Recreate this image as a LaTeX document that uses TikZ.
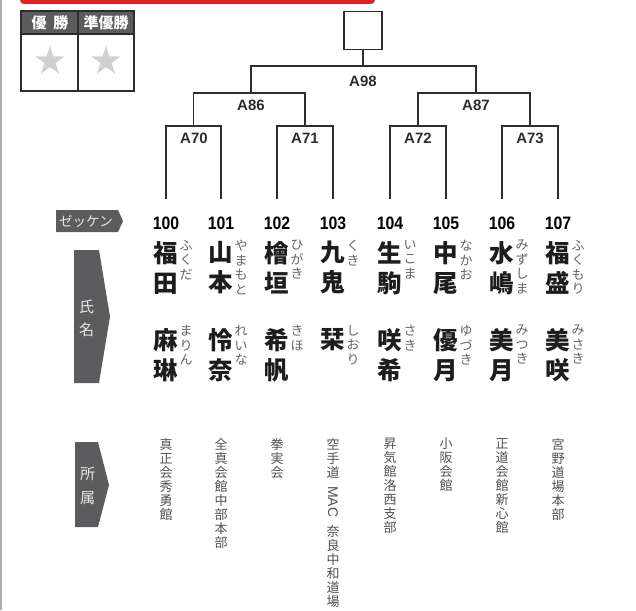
\documentclass[tikz,border=0pt]{standalone}
\usepackage{fontspec}
\usepackage{graphicx}
\setmainfont{Liberation Sans}
\newfontfamily\jp{Noto Sans CJK JP}
\usetikzlibrary{shapes.geometric}
\definecolor{boxgray}{RGB}{92,92,94}
\definecolor{linec}{RGB}{45,45,45}
\definecolor{namec}{RGB}{30,28,30}
\definecolor{rubyc}{RGB}{100,100,100}
\definecolor{affc}{RGB}{80,80,80}
\definecolor{starc}{RGB}{208,208,210}
\definecolor{redbar}{RGB}{232,30,40}
\definecolor{edgegray}{RGB}{175,175,175}
\definecolor{tagtext}{RGB}{232,232,232}
\tikzset{
  bline/.style={draw=linec, line width=1.8pt},
  mlabel/.style={font=\fontsize{15}{15}\selectfont\bfseries, text=linec, inner sep=0pt},
  numlbl/.style={font=\fontsize{18}{18}\selectfont\bfseries, text=black, inner sep=0pt},
  kanji/.style={font=\jp\bfseries\fontsize{24.5}{30}\selectfont, text=namec, inner sep=0pt, align=center, anchor=north},
  ruby/.style={font=\jp\fontsize{13}{14.5}\selectfont, text=rubyc, inner sep=0pt, align=center, anchor=north},
  affil/.style={font=\jp\fontsize{13}{14}\selectfont, text=affc, inner sep=0pt, align=center, anchor=north},
  hdr/.style={font=\jp\bfseries\fontsize{15}{15}\selectfont, text=white, inner sep=0pt},
  tagtxt/.style={font=\jp\fontsize{15}{23.5}\selectfont, text=tagtext, inner sep=0pt, align=center},
  starmark/.style={star, star points=5, star point ratio=2.618, fill=starc, draw=none, minimum size=30.5pt, inner sep=0pt},
}
\newcommand\player[8]{%
  \coordinate (leg#1) at (#2,199);
  \node[numlbl] (num#1) at (#2,223) {\scalebox{0.88}[1]{#3}};
  \node[kanji] (fam#1) at (#2,241) {#4};
  \node[ruby] (famr#1) at (#2+20,240) {#5};
  \node[kanji] (giv#1) at (#2,328) {#6};
  \node[ruby] (givr#1) at (#2+20,325) {#7};
  \node[affil] (aff#1) at (#2,438) {#8};
}
\begin{document}
\begin{tikzpicture}[x=1pt,y=-1pt]
\useasboundingbox (0,0) rectangle (636,610);
% page edges
\fill[edgegray] (0,0) rectangle (2,610);
\fill[redbar, rounded corners=4pt] (20,-8) rectangle (375,4);
% winner table
\fill[boxgray] (21,11) rectangle (134,34);
\draw[linec, line width=1.2pt] (21,34) -- (134,34);
\draw[linec, line width=1.2pt] (78,11) -- (78,91);
\draw[linec, line width=1.5pt] (21,11) rectangle (134,91);
\node[hdr] (win) at (50,23) {優\hspace{7pt}勝};
\node[hdr] (runner) at (106,23) {準優勝};
\node[starmark] (star1) at (50,61.2) {};
\node[starmark] (star2) at (106,61.2) {};
% champion box
\node[draw=linec, line width=1.8pt, minimum width=38pt, minimum height=38pt, inner sep=0pt] (champ) at (363,30.5) {};
% players
\player{0}{166}{100}{福\\田}{ふ\\く\\だ}{麻\\琳}{ま\\り\\ん}{真\\正\\会\\秀\\勇\\館}
\player{1}{221}{101}{山\\本}{や\\ま\\も\\と}{怜\\奈}{れ\\い\\な}{全\\真\\会\\館\\中\\部\\本\\部}
\player{2}{277}{102}{檜\\垣}{ひ\\が\\き}{希\\帆}{き\\ほ}{拳\\実\\会}
\player{3}{333}{103}{九\\鬼}{く\\き}{栞}{し\\お\\り}{空\\手\\道\\\raisebox{5pt}[5pt][33pt]{\rotatebox{-90}{\rmfamily\fontsize{14}{14}\selectfont MAC}}\\奈\\良\\中\\和\\道\\場}
\player{4}{390}{104}{生\\駒}{い\\こ\\ま}{咲\\希}{さ\\き}{昇\\気\\館\\洛\\西\\支\\部}
\player{5}{446}{105}{中\\尾}{な\\か\\お}{優\\月}{ゆ\\づ\\き}{小\\阪\\会\\館}
\player{6}{502}{106}{水\\嶋}{み\\ず\\し\\ま}{美\\月}{み\\つ\\き}{正\\道\\会\\館\\新\\心\\館}
\player{7}{558}{107}{福\\盛}{ふ\\く\\も\\り}{美\\咲}{み\\さ\\き}{宮\\野\\道\\場\\本\\部}
% bracket
\coordinate (m70) at (193.5,126);
\coordinate (m71) at (305,126);
\coordinate (m72) at (418,126);
\coordinate (m73) at (530,126);
\coordinate (m86) at (251,93);
\coordinate (m87) at (476,93);
\coordinate (m98) at (363,66);
\draw[bline] (leg0) |- (m70) -| (leg1);
\draw[bline] (leg2) |- (m71) -| (leg3);
\draw[bline] (leg4) |- (m72) -| (leg5);
\draw[bline] (leg6) |- (m73) -| (leg7);
\draw[bline] (m70) |- (m86) -| (m71);
\draw[bline] (m72) |- (m87) -| (m73);
\draw[bline] (m86) |- (m98) -| (m87);
\draw[bline] (m98) -- (champ.south);
\node[mlabel] (lA98) at (363,81.5) {A98};
\node[mlabel] (lA86) at (251,105) {A86};
\node[mlabel] (lA87) at (476,105) {A87};
\node[mlabel] (lA70) at (194,138.5) {A70};
\node[mlabel] (lA71) at (305,138.5) {A71};
\node[mlabel] (lA72) at (418,138.5) {A72};
\node[mlabel] (lA73) at (530,138.5) {A73};
% side tags
\fill[boxgray] (56,210) -- (118,210) -- (123,221) -- (118,232) -- (56,232) -- cycle;
\node[tagtxt, font=\jp\fontsize{13.5}{13.5}\selectfont] (zekken) at (86,221) {ゼッケン};
\fill[boxgray] (74,250) -- (99,250) -- (110,316.5) -- (99,383) -- (74,383) -- cycle;
\node[tagtxt] (shimei) at (86.5,318.5) {氏\\名};
\fill[boxgray] (75,442) -- (98,442) -- (109,485) -- (98,527) -- (75,527) -- cycle;
\node[tagtxt] (shozoku) at (87.5,486) {所\\属};
\end{tikzpicture}
\end{document}
